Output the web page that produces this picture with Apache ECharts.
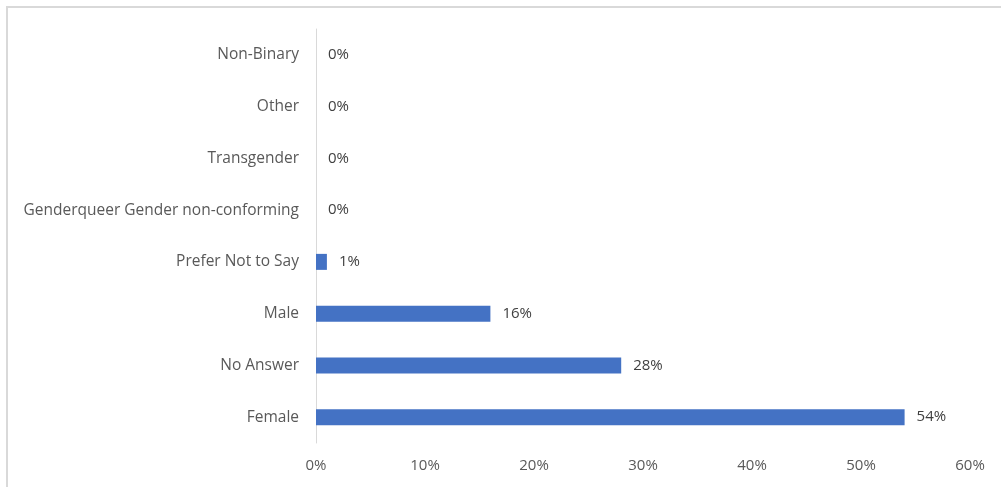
<!DOCTYPE html>
<html><head><meta charset="utf-8">
<script src="https://cdn.jsdelivr.net/npm/echarts@6/dist/echarts.min.js"></script>
<style>
html,body{margin:0;padding:0;background:#fff;}
#frame{position:absolute;left:6px;top:6px;width:1010px;height:500px;border-left:2px solid #d9d9d9;border-top:2px solid #d9d9d9;}
#c{position:absolute;left:0;top:0;width:1001px;height:487px;}
</style></head>
<body><div id="frame"></div><div id="c"></div>
<script>
const categories = ['Female','No Answer','Male','Prefer Not to Say','Genderqueer Gender non-conforming','Transgender','Other','Non-Binary'];
const values = [54, 28, 16, 1, 0, 0, 0, 0];
const xTicks = [0, 10, 20, 30, 40, 50, 60];

const FONT = 'Open Sans';
const chart = echarts.init(document.getElementById('c'));
chart.setOption({
  animation: false,
  grid: {left: 316, right: 31, top: 29, bottom: 44, containLabel: false},
  xAxis: {
    type: 'value', min: xTicks[0], max: xTicks[xTicks.length-1], interval: 10,
    axisLine: {show: false}, axisTick: {show: false}, splitLine: {show: false},
    axisLabel: {formatter: '{value}%', color: '#595959', fontFamily: FONT, fontSize: 15, margin: 15}
  },
  yAxis: {
    type: 'category', data: categories,
    axisLine: {show: true, lineStyle: {color: '#d9d9d9', width: 1}},
    axisTick: {show: false},
    axisLabel: {color: '#595959', fontFamily: FONT, fontSize: 15.5, margin: 17}
  },
  series: [{
    type: 'bar', data: values, barWidth: 16,
    itemStyle: {color: '#4472C4'},
    label: {show: true, position: 'right', formatter: '{c}%', color: '#404040', fontFamily: FONT, fontSize: 15, distance: 12}
  }]
});
</script></body></html>
